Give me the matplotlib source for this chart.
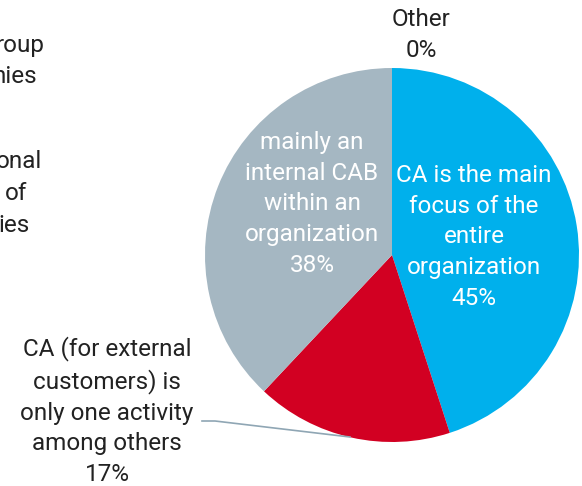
import matplotlib.pyplot as plt

plt.rcParams['font.family'] = ['Roboto', 'DejaVu Sans']

# slices, clockwise from 12 o'clock
labels = ["CA is the main\nfocus of the\nentire\norganization",
          "CA (for external\ncustomers) is\nonly one activity\namong others",
          "mainly an\ninternal CAB\nwithin an\norganization",
          "Other"]
values = [45, 17, 38, 0]
colors = ["#00B0EC", "#D20022", "#A5B7C2", "#A5B7C2"]

# fragments of a neighbouring chart, cut off by the left edge
fragments = ["roup", "nies", "onal", "of", "ies"]

W, H = 582, 486
fig = plt.figure(figsize=(W / 100, H / 100), dpi=100)
ax = fig.add_axes([0, 0, 1, 1])

cx, cy, r = 392, H - 255, 187
ax.pie(values, colors=colors, startangle=90, counterclock=False,
       center=(cx, cy), radius=r, wedgeprops=dict(linewidth=0),
       frame=True)
ax.set_xlim(0, W)
ax.set_ylim(0, H)
ax.set_aspect('equal')
ax.axis('off')

fs = 17.5
txt = dict(fontsize=fs, ha='center', va='center', linespacing=1.42)

ax.text(474, H - 237, f"{labels[0]}\n{values[0]}%", color='white', **txt)
ax.text(312, H - 204, f"{labels[2]}\n{values[2]}%", color='white', **txt)
ax.text(107, H - 411, f"{labels[1]}\n{values[1]}%", color='#222222', **txt)
ax.text(421, H - 35, f"{labels[3]}\n{values[3]}%", color='#222222', **txt)

# leader line for the red slice
ax.plot([202, 215, 350], [H - 421, H - 421, H - 437], color='#8FA6B4', lw=1.2)

# cut-off text on the left
frag_pos = [(44, 46), (37, 77), (42, 162), (27, 193), (30, 225)]
for f, (x, y) in zip(fragments, frag_pos):
    ax.text(x, H - y, f, color='#222222', fontsize=fs, ha='right',
            va='center')

fig.savefig("out.png", dpi=100)
